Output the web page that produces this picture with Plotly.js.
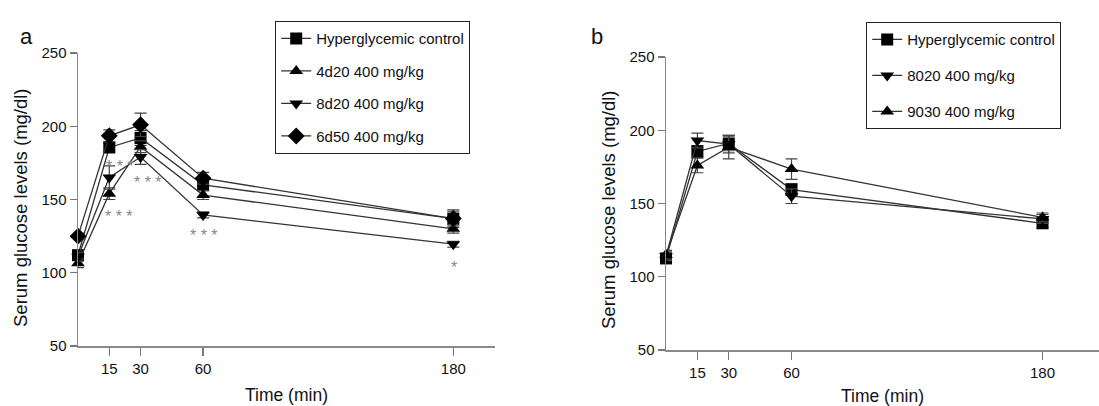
<!DOCTYPE html>
<html>
<head>
<meta charset="utf-8">
<script src="https://cdn.plot.ly/plotly-3.0.1.min.js"></script>
<style>html,body{margin:0;padding:0;background:#fff;}#chart{width:1099px;height:406px;}</style>
</head>
<body>
<div id="chart"></div>
<script>
// ---- data ----
const timeMin = [0, 15, 30, 60, 180];
const tickVals = [15, 30, 60, 180];
const tickText = ["15", "30", "60", "180"];

// Panel a
const aNames = ["Hyperglycemic control", "4d20 400 mg/kg", "8d20 400 mg/kg", "6d50 400 mg/kg"];
const aControl = [112, 185.5, 192, 160, 137];
const aControlErr = [3, 3, 5, 4, 6];
const a4d20 = [106.5, 154, 186, 153, 130];
const a4d20Err = [3, 4, 4, 3, 3];
const a8d20 = [111, 165, 179, 139.5, 119.5];
const a8d20Err = [3, 8, 5, 2, 2];
const a6d50 = [125, 193.5, 201, 164.5, 137];
const a6d50Err = [2, 4, 8, 4, 5];
const aSymbols = ["square", "triangle-up", "triangle-down", "diamond"];

// significance marks, panel a
const sigX = [20, 19.5, 33.5, 60.5, 180.5];
const sigY = [175, 141, 164.5, 128, 106.5];
const sigText = ["* * *", "* * *", "* * *", "* * *", "*"];

// Panel b
const bNames = ["Hyperglycemic control", "8020 400 mg/kg", "9030 400 mg/kg"];
const bControl = [112.5, 185.5, 191, 159.5, 136.5];
const bControlErr = [3, 4, 5, 4, 3];
const b8020 = [114, 193, 190.5, 155, 139.5];
const b8020Err = [3, 5, 6, 5, 3];
const b9030 = [115, 176, 188.5, 173.5, 140.5];
const b9030Err = [3, 5, 8, 7, 3];
const bSymbols = ["square", "triangle-down", "triangle-up"];

const yTitle = "Serum glucose levels (mg/dl)";
const xTitle = "Time (min)";

// ---- build ----
const lineColor = "#333";
function mk(y, err, name, sym, xa, ya, leg, grp) {
  return {
    x: timeMin, y: y, name: name, type: "scatter", mode: "lines+markers",
    xaxis: xa, yaxis: ya, legend: leg, legendgroup: grp, cliponaxis: false,
    line: {color: lineColor, width: 1.3},
    marker: {symbol: sym, size: sym === "diamond" ? 13 : 12, color: "#000"},
    error_y: {type: "data", array: err, visible: true, color: "#444", thickness: 1.2, width: 6}
  };
}
const aY = [aControl, a4d20, a8d20, a6d50];
const aE = [aControlErr, a4d20Err, a8d20Err, a6d50Err];
const bY = [bControl, b8020, b9030];
const bE = [bControlErr, b8020Err, b9030Err];
const traces = [];
aNames.forEach((n, i) => traces.push(mk(aY[i], aE[i], n, aSymbols[i], "x", "y", "legend", "a" + i)));
bNames.forEach((n, i) => traces.push(mk(bY[i], bE[i], n, bSymbols[i], "x2", "y2", "legend2", "b" + i)));

const fam = "Liberation Sans, Arial, sans-serif";
const tickFont = {family: fam, size: 15, color: "#111"};
function xax(domain, range, anchor) {
  return {
    domain: domain, range: range, anchor: anchor, tickvals: tickVals, ticktext: tickText,
    showgrid: false, zeroline: false, showline: true, linecolor: "#8a8a8a", linewidth: 1.5,
    ticks: "outside", ticklen: 8, tickwidth: 1.3, tickcolor: "#777", tickfont: tickFont,
    title: {text: xTitle, font: {family: fam, size: 17.5, color: "#111"}, standoff: 13}
  };
}
function yax(domain, anchor) {
  return {
    domain: domain, range: [50, 250], anchor: anchor, tickvals: [50, 100, 150, 200, 250],
    showgrid: false, zeroline: false, showline: true, linecolor: "#8a8a8a", linewidth: 1.5,
    ticks: "outside", ticklen: 7, tickwidth: 1.3, tickcolor: "#777", tickfont: tickFont
  };
}
const annotations = sigX.map((x, i) => ({
  x: x, y: sigY[i], xref: "x", yref: "y", text: sigText[i], showarrow: false, yshift: -4,
  font: {family: fam, size: 16, color: "#888"}
}));
// y-axis titles (as rotated annotations for exact placement)
[[20, 208], [608, 210]].forEach(p => annotations.push({
  x: p[0] / 1099, y: 1 - p[1] / 406, xref: "paper", yref: "paper", text: yTitle, textangle: -90,
  showarrow: false, xanchor: "center", yanchor: "middle", font: {family: fam, size: 18.5, color: "#111"}
}));
annotations.push({x: 18 / 1099, y: 1 - 22 / 406, xref: "paper", yref: "paper", text: "a", showarrow: false,
  font: {family: fam, size: 22, color: "#111"}});
annotations.push({x: 597 / 1099, y: 1 - 22 / 406, xref: "paper", yref: "paper", text: "b", showarrow: false,
  font: {family: fam, size: 22, color: "#111"}});

const legendBase = {
  bgcolor: "#fff", bordercolor: "#222", borderwidth: 1.2, font: {family: fam, size: 15, color: "#111"},
  xanchor: "left", yanchor: "top", traceorder: "grouped", itemwidth: 30
};
const layout = {
  width: 1099, height: 406, margin: {l: 0, r: 0, t: 0, b: 0},
  paper_bgcolor: "#fff", plot_bgcolor: "#fff", font: tickFont, showlegend: true,
  xaxis: xax([78 / 1099, 495 / 1099], [0, 200], "y"),
  yaxis: yax([1 - 346 / 406, 1 - 53 / 406], "x"),
  xaxis2: xax([666 / 1099, 1], [0, 207], "y2"),
  yaxis2: yax([1 - 350 / 406, 1 - 57 / 406], "x2"),
  legend: Object.assign({}, legendBase, {x: 275 / 1099, y: 1 - 21 / 406, tracegroupgap: 10}),
  legend2: Object.assign({}, legendBase, {x: 866 / 1099, y: 1 - 22 / 406, tracegroupgap: 13.5}),
  annotations: annotations
};
Plotly.newPlot("chart", traces, layout, {staticPlot: true, displayModeBar: false});
</script>
</body>
</html>
